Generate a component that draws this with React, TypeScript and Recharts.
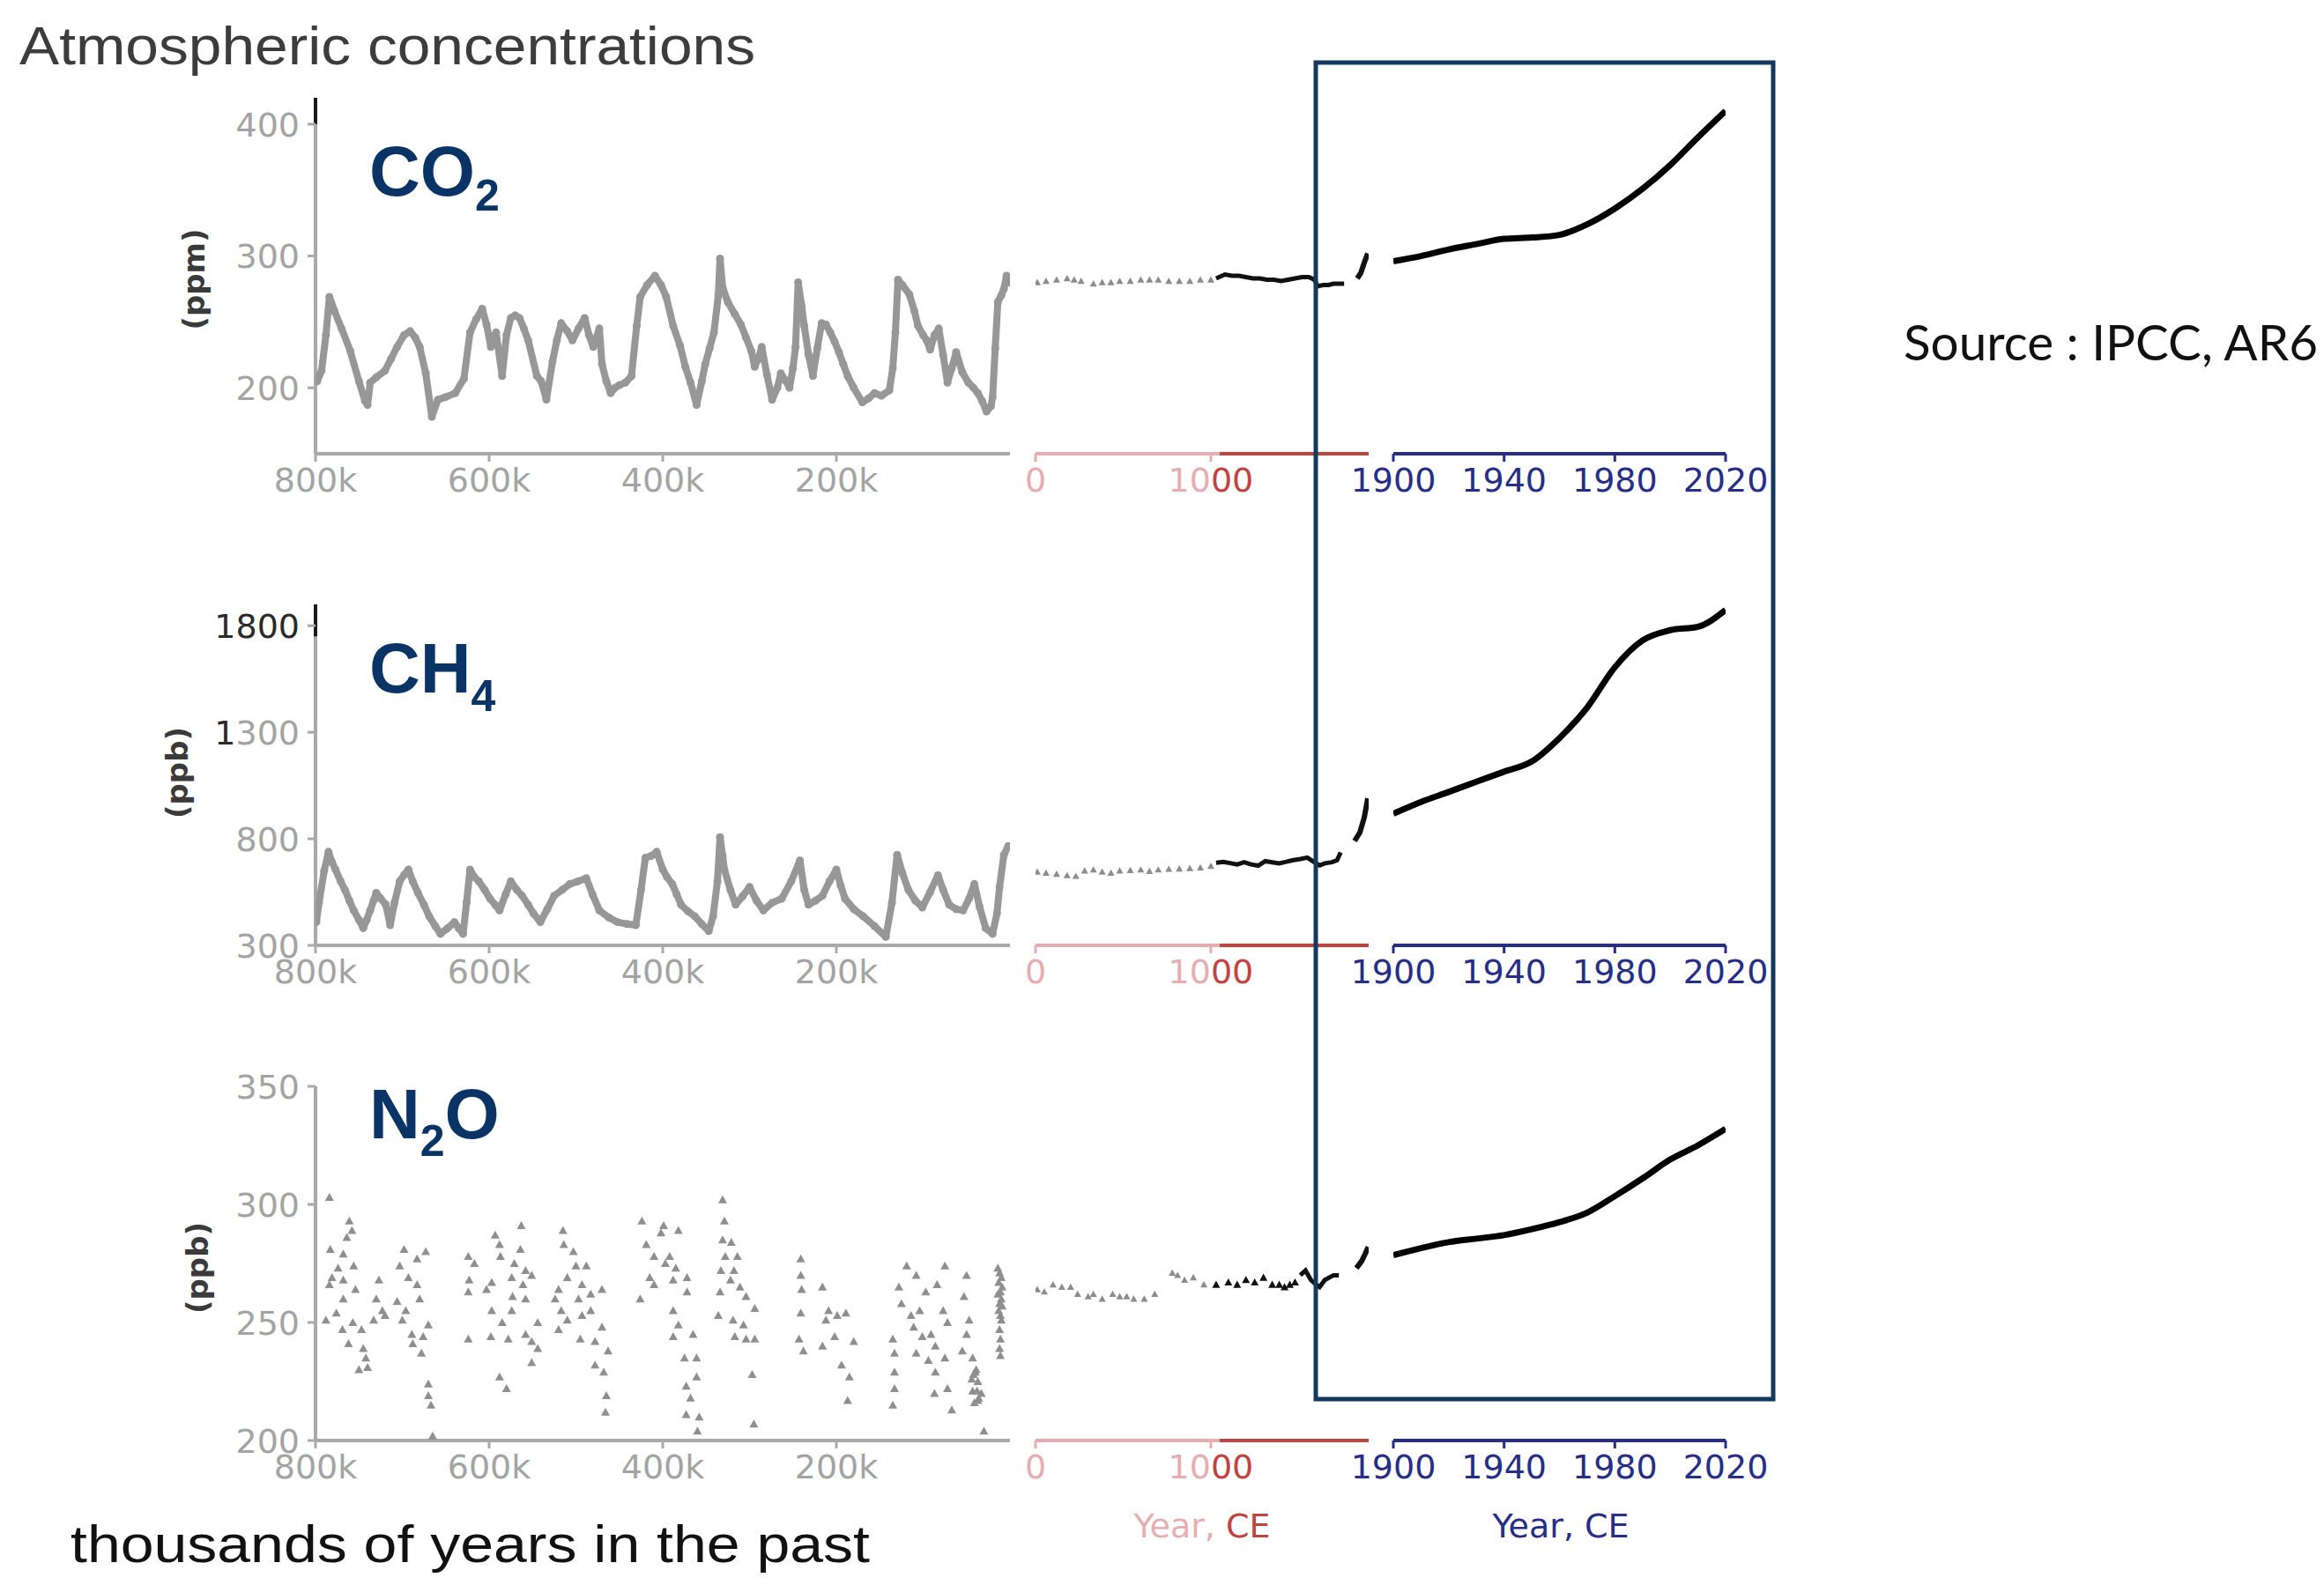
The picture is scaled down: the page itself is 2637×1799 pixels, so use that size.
/** Atmospheric concentrations of CO2, CH4 and N2O: ice-core record, Year CE 0-1900, and 1900-2020. */

import React from 'react'
import { ComposedChart, Line, Scatter, XAxis, YAxis, ReferenceLine } from 'recharts'

// ---- left block: thousands of years before present [kyr, value] ----
const co2Old: [number, number][] = [
  [798, 205], [793, 213], [788, 240], [784, 269], [778, 258], [770, 245], [760, 228], [750, 205], [743, 190],
  [740, 187], [737, 204], [730, 208], [720, 213], [713, 222], [706, 231], [698, 240], [691, 243], [685, 238],
  [680, 231], [673, 211], [666, 178], [659, 191], [650, 193], [639, 196], [629, 207], [622, 242], [615, 252],
  [608, 260], [603, 248], [598, 231], [592, 242], [585, 209], [580, 240], [575, 253], [570, 255], [565, 253],
  [560, 245], [555, 236], [545, 209], [540, 205], [534, 191], [527, 220], [522, 236], [517, 249], [510, 243],
  [504, 236], [497, 245], [490, 253], [485, 240], [480, 231], [473, 245], [470, 218], [465, 205], [460, 196],
  [455, 200], [450, 202], [443, 204], [436, 209], [430, 247], [426, 269], [418, 278], [409, 285], [402, 278],
  [396, 269], [388, 247], [380, 232], [374, 216], [368, 204], [361, 187], [355, 205], [351, 218], [346, 230],
  [341, 242], [336, 270], [334, 298], [331, 276], [325, 265], [317, 256], [310, 248], [304, 238], [298, 228],
  [294, 216], [290, 222], [286, 231], [280, 210], [274, 191], [268, 200], [264, 211], [258, 205], [254, 200],
  [250, 215], [247, 231], [244, 280], [240, 262], [237, 247], [232, 225], [227, 209], [222, 230], [217, 249],
  [212, 248], [207, 242], [202, 235], [197, 227], [192, 218], [187, 209], [180, 200], [170, 189], [163, 192],
  [156, 196], [148, 194], [139, 198], [135, 215], [132, 242], [129, 282], [124, 278], [116, 271], [110, 258],
  [106, 247], [100, 240], [96, 236], [92, 229], [87, 240], [82, 245], [77, 225], [72, 204], [67, 215],
  [62, 227], [55, 212], [48, 204], [42, 200], [37, 196], [32, 190], [27, 182], [22, 186], [20, 193],
  [17, 230], [14, 265], [10, 270], [7, 275], [4, 285], [1, 280],
]

const ch4Old: [number, number][] = [
  [799, 409], [796, 500], [790, 650], [785, 739], [781, 690], [777, 656], [771, 600], [766, 560], [761, 510],
  [756, 464], [750, 420], [745, 381], [741, 420], [737, 464], [733, 510], [730, 546], [725, 520], [719, 491],
  [714, 395], [709, 500], [703, 601], [698, 630], [693, 656], [688, 600], [682, 546], [675, 490], [669, 436],
  [662, 390], [656, 354], [648, 380], [640, 409], [635, 380], [630, 354], [626, 500], [622, 656], [617, 620],
  [612, 601], [605, 560], [599, 519], [593, 490], [588, 464], [581, 540], [575, 601], [568, 560], [562, 533],
  [555, 490], [549, 450], [541, 409], [533, 470], [525, 533], [516, 560], [507, 588], [498, 600], [488, 615],
  [481, 540], [473, 464], [462, 430], [452, 409], [441, 400], [431, 395], [425, 560], [420, 711], [413, 720],
  [407, 739], [400, 656], [395, 620], [389, 588], [384, 540], [379, 491], [371, 460], [363, 436], [355, 400],
  [347, 367], [342, 436], [337, 600], [334, 808], [331, 720], [329, 656], [322, 560], [316, 491], [308, 530],
  [300, 574], [292, 510], [284, 464], [274, 500], [263, 519], [252, 600], [242, 698], [237, 560], [232, 491],
  [224, 510], [216, 533], [208, 600], [200, 656], [195, 580], [190, 519], [180, 470], [169, 436], [156, 390],
  [143, 340], [136, 500], [130, 725], [124, 640], [117, 560], [109, 510], [101, 478], [92, 550], [83, 629],
  [77, 560], [70, 491], [62, 470], [54, 464], [47, 520], [41, 588], [35, 480], [28, 381], [20, 354],
  [15, 450], [12, 574], [7, 725], [2, 766],
]

const n2oOld: [number, number][] = [
  [784, 303], [761, 293], [758, 289], [764, 286], [783, 281], [768, 279], [756, 274], [774, 273], [781, 269],
  [768, 268], [754, 264], [784, 266], [768, 260], [776, 254], [788, 251], [757, 250], [769, 247], [747, 247],
  [762, 241], [745, 239], [742, 235], [750, 230], [740, 231],
  [727, 268], [730, 260], [723, 255], [733, 251], [720, 253],
  [698, 281], [673, 280], [683, 277], [703, 274], [693, 269], [683, 266], [706, 259], [680, 260], [696, 255],
  [700, 251], [670, 249], [689, 245], [676, 244], [688, 241], [678, 237], [670, 224], [670, 219], [667, 215],
  [665, 202],
  [624, 278], [617, 275], [593, 287], [588, 283], [587, 278], [623, 268], [624, 263], [603, 264], [597, 267],
  [563, 291], [564, 281], [571, 275], [558, 272], [574, 269], [551, 270], [561, 266], [573, 261], [558, 260],
  [574, 255], [597, 255], [585, 250], [544, 250], [624, 243], [598, 244], [578, 243], [558, 245], [551, 242],
  [544, 239], [551, 233], [588, 227], [580, 222],
  [515, 289], [514, 283], [503, 280], [500, 274], [488, 274], [510, 269], [493, 266], [520, 264], [483, 262],
  [470, 264], [524, 260], [497, 260], [517, 255], [483, 255], [510, 251], [493, 253], [520, 247], [470, 248],
  [495, 243], [478, 242], [463, 238], [478, 232], [468, 229], [465, 219], [466, 212],
  [424, 293], [402, 288], [419, 283], [410, 278], [397, 275], [415, 269], [410, 266], [426, 260], [399, 291],
  [382, 289], [392, 278], [385, 273], [372, 269], [372, 263], [388, 268], [388, 255], [382, 249], [365, 245],
  [388, 244], [375, 235], [361, 235], [373, 223], [361, 227], [368, 218], [373, 211], [358, 210], [360, 204],
  [331, 302], [329, 293], [331, 285], [321, 284], [328, 278], [314, 278], [333, 272], [318, 272], [322, 268],
  [311, 265], [304, 261], [294, 256], [334, 263], [336, 253], [319, 251], [307, 249], [317, 244], [304, 243],
  [294, 243], [297, 228], [295, 207],
  [241, 277], [241, 270], [240, 264], [241, 254], [243, 243], [238, 238], [216, 265], [209, 255], [212, 251],
  [199, 253], [202, 244], [189, 254], [180, 242], [194, 232], [185, 227], [187, 217], [216, 240],
  [119, 274], [108, 270], [128, 265], [125, 258], [114, 253], [104, 255], [97, 263], [111, 248], [101, 244],
  [91, 245], [86, 240], [75, 274], [84, 266], [77, 255], [72, 250], [75, 235], [108, 237], [94, 234],
  [86, 229], [87, 220], [72, 222], [67, 213], [135, 243], [133, 237], [133, 229], [133, 222], [135, 215],
  [50, 270], [53, 261], [47, 251], [50, 245], [55, 238], [43, 235], [40, 229], [37, 225], [33, 220],
  [43, 221], [37, 217], [30, 204], [42, 228], [38, 221], [36, 218], [41, 216], [44, 226], [39, 230],
  [14, 273], [12, 271], [10, 269], [13, 267], [9, 265], [11, 263], [14, 262], [10, 260], [12, 258],
  [9, 257], [13, 255], [11, 253], [10, 251], [12, 247], [11, 243], [12, 239], [11, 236],
]

// ---- middle block: Year CE 0-1900 (grey before 1000, black after) ----
const co2MidGrey: [number, number][] = [
  [10, 280], [60, 281], [120, 282], [180, 283], [220, 282], [260, 281], [330, 279], [380, 280], [430, 280],
  [480, 281], [540, 281], [600, 282], [650, 282], [700, 282], [760, 281], [820, 281], [880, 281], [940, 282],
  [1000, 282],
]
const co2MidBlack: [number, number][] = [
  [1030, 283], [1080, 286], [1120, 285], [1160, 285], [1200, 284], [1240, 283], [1280, 283], [1320, 282],
  [1360, 282], [1400, 281], [1440, 282], [1480, 283], [1520, 284], [1560, 284], [1590, 282], [1610, 277],
  [1640, 278], [1670, 278], [1700, 279], [1740, 279], [1760, 279],
]
const co2Spike: [number, number][] = [[1835, 283], [1855, 287], [1875, 295], [1895, 302]]

const ch4MidGrey: [number, number][] = [
  [10, 645], [60, 640], [120, 635], [180, 628], [230, 625], [280, 650], [330, 655], [380, 645], [430, 640],
  [480, 650], [540, 652], [600, 655], [650, 648], [700, 655], [760, 658], [820, 660], [880, 662], [940, 665],
  [1000, 672],
]
const ch4MidBlack: [number, number][] = [
  [1030, 688], [1070, 692], [1110, 686], [1150, 680], [1190, 690], [1230, 680], [1270, 674], [1310, 695],
  [1350, 690], [1390, 685], [1430, 692], [1470, 700], [1510, 705], [1550, 712], [1590, 690], [1620, 675],
  [1650, 685], [1690, 690], [1720, 700], [1740, 736],
]
const ch4Spike: [number, number][] = [[1820, 790], [1850, 830], [1875, 900], [1895, 990]]

const n2oMidGrey: [number, number][] = [
  [10, 264], [50, 263], [100, 266], [150, 265], [200, 265], [240, 262], [300, 261], [330, 262], [380, 260],
  [440, 262], [480, 261], [520, 261], [560, 260], [620, 260], [680, 262], [780, 271], [810, 270], [850, 268],
  [900, 269], [960, 266],
]
const n2oMidDots: [number, number][] = [
  [1030, 266], [1100, 267], [1150, 266], [1200, 268], [1250, 267], [1300, 269], [1350, 266], [1390, 266],
  [1420, 265], [1450, 266], [1480, 267],
]
const n2oMidBlack: [number, number][] = [
  [1510, 270], [1540, 272], [1570, 268], [1600, 266], [1620, 265], [1650, 268], [1700, 270], [1730, 270],
]
const n2oSpike: [number, number][] = [[1830, 273], [1860, 276], [1880, 279], [1898, 282]]

// ---- right block: 1900-2020 ----
const modernYears = [1900, 1910, 1920, 1930, 1940, 1950, 1960, 1970, 1980, 1990, 2000, 2010, 2020]
const co2Modern = [296, 300, 305, 309, 313, 314, 316, 324, 336, 351, 369, 390, 410]
const ch4Modern = [918, 973, 1020, 1068, 1115, 1163, 1273, 1416, 1605, 1731, 1779, 1795, 1874]
const n2oModern = [278.5, 281.5, 284, 285.5, 287, 289.5, 292.5, 296.5, 303.5, 311, 319, 325, 332]

// ---- ticks ----
const oldTicks = [800, 600, 400, 200]
const midTicks = [0, 1000]
const modernTicks = [1900, 1940, 1980, 2020]
const co2Ticks = [200, 300, 400]
const ch4Ticks = [300, 800, 1300, 1800]
const n2oTicks = [200, 250, 300, 350]

const pts = (a: [number, number][]) => a.map(([x, y]) => ({ x, y }))
const zip = (xs: number[], ys: number[]) => xs.map((x, i) => ({ x, y: ys[i] }))

// ---- layout (px on the page) ----
const W = 2637
const H = 1799
const OLD_X: [number, number] = [358, 1146]
const MID_X: [number, number] = [1175, 1553]
const NEW_X: [number, number] = [1581, 1958]
const TOP = 20
const RIGHT = 70
const BOTTOM = 90
const Y_LEAD = 170
const LEAD = 70

const GREY_DOT = '#979797'
const AXIS_GREY = '#a9a9a9'
const TICK_GREY = '#a3a3a3'
const PINK = '#e6aeb0'
const RED = '#c0443f'
const NAVY = '#262e86'
const BOX = '#133a5e'
const LABEL_BLUE = '#0b3466'
const TICK_FONT = '"DejaVu Sans", sans-serif'
const SANS = '"Liberation Sans", Arial, sans-serif'

const tri = (s: number, fill: string) => (p: any) => (
  <path d={`M${p.cx},${p.cy - s}L${p.cx + s},${p.cy + s * 0.8}L${p.cx - s},${p.cy + s * 0.8}Z`} fill={fill} />
)

const xTick = (color: string, fmt: (v: number) => string) => (p: any) => (
  <text x={p.x} y={p.y} dy="0.76em" textAnchor="middle" fill={color} fontSize={38} fontFamily={TICK_FONT}>
    {fmt(p.payload.value)}
  </text>
)

const midTick = (p: any) => (
  <text x={p.x} y={p.y} dy="0.76em" textAnchor="middle" fontSize={38} fontFamily={TICK_FONT}>
    {p.payload.value === 0 ? (
      <tspan fill={PINK}>0</tspan>
    ) : (
      <>
        <tspan fill={PINK}>10</tspan>
        <tspan fill={RED}>00</tspan>
      </>
    )}
  </text>
)

const yTick = (dark: Record<number, number>) => (p: any) => {
  const v = String(p.payload.value)
  const n = dark[p.payload.value] ?? 0
  return (
    <text x={p.x} y={p.y} dy="0.36em" textAnchor="end" fontSize={38} fontFamily={TICK_FONT}>
      <tspan fill="#2a2a2a">{v.slice(0, n)}</tspan>
      <tspan fill={TICK_GREY}>{v.slice(n)}</tspan>
    </text>
  )
}

type SegmentProps = {
  xRange: [number, number]
  yRange: [number, number]
  xDomain: [number, number]
  yDomain: [number, number]
  reversed?: boolean
  xTicks: number[]
  tick: (p: any) => React.ReactElement
  axisColor?: string
  tickColor: string
  yTicks?: number[]
  yTickFn?: (p: any) => React.ReactElement
  children?: React.ReactNode
}

function Segment({ xRange, yRange, xDomain, yDomain, reversed, xTicks, tick, axisColor, tickColor, yTicks, yTickFn, children }: SegmentProps) {
  const withY = !!yTicks
  const lead = withY ? Y_LEAD : LEAD
  const w = xRange[1] - xRange[0]
  const h = yRange[1] - yRange[0]
  return (
    <div style={{ position: 'absolute', left: xRange[0] - lead, top: yRange[0] - TOP }}>
      <ComposedChart
        width={lead + w + RIGHT}
        height={TOP + h + BOTTOM}
        margin={{ top: TOP, right: RIGHT, bottom: 0, left: withY ? 0 : lead }}
      >
        <XAxis
          type="number"
          dataKey="x"
          domain={xDomain}
          reversed={reversed}
          ticks={xTicks}
          interval={0}
          allowDataOverflow
          height={BOTTOM}
          tickSize={9}
          tickMargin={5}
          axisLine={axisColor ? { stroke: axisColor, strokeWidth: 4 } : false}
          tickLine={{ stroke: tickColor, strokeWidth: 3 }}
          tick={tick}
        />
        {withY ? (
          <YAxis
            type="number"
            domain={yDomain}
            ticks={yTicks}
            interval={0}
            allowDataOverflow
            width={lead}
            tickSize={9}
            tickMargin={9}
            axisLine={false}
            tickLine={{ stroke: AXIS_GREY, strokeWidth: 3 }}
            tick={yTickFn}
          />
        ) : (
          <YAxis hide type="number" domain={yDomain} allowDataOverflow />
        )}
        {children}
      </ComposedChart>
    </div>
  )
}

type RowProps = {
  yRange: [number, number]
  yDomain: [number, number]
  yTicks: number[]
  dark: Record<number, number>
  stubFrom: number
  old: [number, number][]
  oldDots?: boolean
  midGrey: [number, number][]
  midDots: [number, number][]
  midBlack: [number, number][]
  spike: [number, number][]
  modern: number[]
}

function Row({ yRange, yDomain, yTicks, dark, stubFrom, old, oldDots, midGrey, midDots, midBlack, spike, modern }: RowProps) {
  const [yMin, yMax] = yDomain
  return (
    <>
      <Segment
        xRange={OLD_X} yRange={yRange} xDomain={[0, 800]} yDomain={yDomain} reversed
        xTicks={oldTicks} tick={xTick(TICK_GREY, (v) => `${v}k`)} axisColor={AXIS_GREY} tickColor={AXIS_GREY}
        yTicks={yTicks} yTickFn={yTick(dark)}
      >
        <ReferenceLine segment={[{ x: 800, y: yMin }, { x: 800, y: yMax }]} stroke={AXIS_GREY} strokeWidth={4} />
        <ReferenceLine segment={[{ x: 800, y: stubFrom }, { x: 800, y: yMax }]} stroke="#1a1a1a" strokeWidth={4} />
        {oldDots ? (
          <Scatter data={pts(old)} dataKey="y" shape={tri(5, '#8f8f8f')} isAnimationActive={false} />
        ) : (
          <Line
            data={pts(old)} dataKey="y" type="linear" stroke={GREY_DOT} strokeWidth={8} strokeLinejoin="round"
            dot={{ r: 4.5, fill: GREY_DOT, stroke: 'none' }} activeDot={false} isAnimationActive={false}
          />
        )}
      </Segment>

      <Segment
        xRange={MID_X} yRange={yRange} xDomain={[0, 1900]} yDomain={yDomain}
        xTicks={midTicks} tick={midTick} tickColor={PINK}
      >
        <ReferenceLine segment={[{ x: 0, y: yMin }, { x: 1050, y: yMin }]} stroke={PINK} strokeWidth={4} />
        <ReferenceLine segment={[{ x: 1050, y: yMin }, { x: 1900, y: yMin }]} stroke={RED} strokeWidth={4} />
        <Scatter data={pts(midGrey)} dataKey="y" shape={tri(4, '#8c8c8c')} isAnimationActive={false} />
        <Scatter data={pts(midDots)} dataKey="y" shape={tri(4.5, '#111')} isAnimationActive={false} />
        <Line data={pts(midBlack)} dataKey="y" type="linear" stroke="#111" strokeWidth={5} dot={false} activeDot={false} isAnimationActive={false} />
        <Line data={pts(spike)} dataKey="y" type="linear" stroke="#111" strokeWidth={6} dot={false} activeDot={false} isAnimationActive={false} />
      </Segment>

      <Segment
        xRange={NEW_X} yRange={yRange} xDomain={[1900, 2020]} yDomain={yDomain}
        xTicks={modernTicks} tick={xTick(NAVY, (v) => String(v))} axisColor={NAVY} tickColor={NAVY}
      >
        <Line data={zip(modernYears, modern)} dataKey="y" type="monotone" stroke="#000" strokeWidth={7} dot={false} activeDot={false} isAnimationActive={false} />
      </Segment>
    </>
  )
}

export default function App() {
  return (
    <div style={{ position: 'absolute', left: 0, top: 0, width: W, height: H, background: '#fff', overflow: 'hidden' }}>
      <Row
        yRange={[111, 515]} yDomain={[150, 420]} yTicks={co2Ticks} dark={{}} stubFrom={400}
        old={co2Old} midGrey={co2MidGrey} midDots={[]} midBlack={co2MidBlack} spike={co2Spike} modern={co2Modern}
      />
      <Row
        yRange={[686, 1073]} yDomain={[300, 1900]} yTicks={ch4Ticks} dark={{ 1800: 4, 1300: 1 }} stubFrom={1750}
        old={ch4Old} midGrey={ch4MidGrey} midDots={[]} midBlack={ch4MidBlack} spike={ch4Spike} modern={ch4Modern}
      />
      <Row
        yRange={[1233, 1635]} yDomain={[200, 350]} yTicks={n2oTicks} dark={{}} stubFrom={350}
        old={n2oOld} oldDots midGrey={n2oMidGrey} midDots={n2oMidDots} midBlack={n2oMidBlack} spike={n2oSpike} modern={n2oModern}
      />

      <svg width={W} height={H} style={{ position: 'absolute', left: 0, top: 0, pointerEvents: 'none' }}>
        <text x={22} y={73} fontFamily={SANS} fontSize={61} fill="#3c3c3c" textLength={835} lengthAdjust="spacingAndGlyphs">
          Atmospheric concentrations
        </text>

        <text x={419} y={222} fontFamily={SANS} fontSize={80} fontWeight="bold" fill={LABEL_BLUE}>
          CO<tspan fontSize={50} dy={17}>2</tspan>
        </text>
        <text x={419} y={786} fontFamily={SANS} fontSize={80} fontWeight="bold" fill={LABEL_BLUE}>
          CH<tspan fontSize={50} dy={21}>4</tspan>
        </text>
        <text x={419} y={1292} fontFamily={SANS} fontSize={80} fontWeight="bold" fill={LABEL_BLUE}>
          N<tspan fontSize={50} dy={20}>2</tspan><tspan dy={-20}>O</tspan>
        </text>

        <text transform="translate(220,317) rotate(-90)" textAnchor="middle" dominantBaseline="central" fontFamily={TICK_FONT} fontWeight="bold" fontSize={34} fill="#3a3a3a">(ppm)</text>
        <text transform="translate(201,877) rotate(-90)" textAnchor="middle" dominantBaseline="central" fontFamily={TICK_FONT} fontWeight="bold" fontSize={34} fill="#3a3a3a">(ppb)</text>
        <text transform="translate(224,1439) rotate(-90)" textAnchor="middle" dominantBaseline="central" fontFamily={TICK_FONT} fontWeight="bold" fontSize={34} fill="#3a3a3a">(ppb)</text>

        <text x={1364} y={1745} textAnchor="middle" fontFamily={TICK_FONT} fontSize={38}>
          <tspan fill={PINK}>Year, </tspan>
          <tspan fill={RED}>CE</tspan>
        </text>
        <text x={1771} y={1745} textAnchor="middle" fontFamily={TICK_FONT} fontSize={38} fill={NAVY}>Year, CE</text>

        <text x={80} y={1773} fontFamily={SANS} fontSize={59} fill="#111" textLength={907} lengthAdjust="spacingAndGlyphs">
          thousands of years in the past
        </text>

        <text x={2160} y={409} fontFamily="Lato, 'Open Sans', sans-serif" fontSize={56} fill="#111" textLength={470} lengthAdjust="spacingAndGlyphs">
          Source : IPCC, AR6
        </text>

        <rect x={1493} y={71} width={519} height={1517} fill="none" stroke={BOX} strokeWidth={5} />
      </svg>
    </div>
  )
}
